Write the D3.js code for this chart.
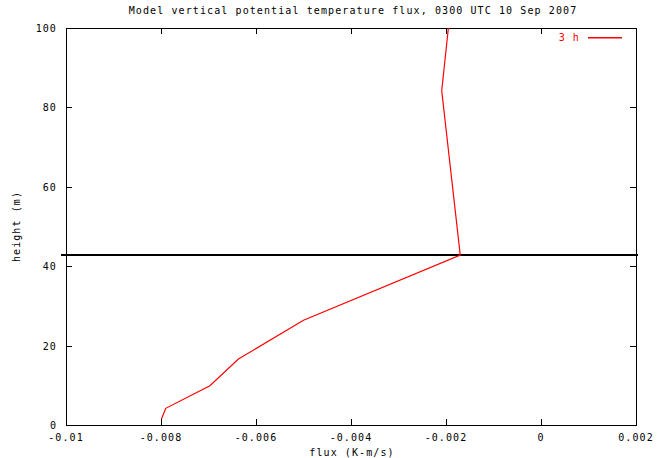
<!DOCTYPE html>
<html><head><meta charset="utf-8">
<script src="https://cdn.jsdelivr.net/npm/d3@7"></script>
<style>
body{margin:0;background:#fff;}
text{font-family:"DejaVu Sans Mono",monospace;font-size:10px;letter-spacing:1.1px;}
</style></head>
<body><svg id="c" width="664" height="458"></svg>
<script>
const title = "Model vertical potential temperature flux, 0300 UTC 10 Sep 2007";
const xLabel = "flux (K-m/s)";
const yLabel = "height (m)";
const seriesName = "3 h";
const heights = [1.5, 4.2, 9.9, 16.6, 26.4, 42.8, 84.2, 100];
const flux = [-0.00799, -0.0079, -0.00697, -0.00637, -0.0050, -0.0017, -0.00209, -0.00195];
const xTicks = [-0.01, -0.008, -0.006, -0.004, -0.002, 0, 0.002];
const xTickLabels = ["-0.01", "-0.008", "-0.006", "-0.004", "-0.002", "0", "0.002"];
const yTicks = [0, 20, 40, 60, 80, 100];
const refHeight = 42.8;

const svg = d3.select("#c");
const L = 66, R = 636, T = 28, B = 425;
const x = d3.scaleLinear().domain([-0.01, 0.002]).range([L, R]);
const y = d3.scaleLinear().domain([0, 100]).range([B, T]);

svg.append("text").attr("x", 353).attr("y", 14).attr("text-anchor", "middle").text(title);

// ticks inward, all four sides
const tl = 6;
const g = svg.append("g").attr("stroke", "#000").attr("stroke-width", 1).attr("shape-rendering", "crispEdges");
xTicks.forEach(v => {
  const px = Math.round(x(v)) + 0.5;
  g.append("line").attr("x1", px).attr("x2", px).attr("y1", B).attr("y2", B - tl);
  g.append("line").attr("x1", px).attr("x2", px).attr("y1", T).attr("y2", T + tl);
});
yTicks.forEach(v => {
  const py = Math.round(y(v)) + 0.5;
  g.append("line").attr("x1", L).attr("x2", L + tl).attr("y1", py).attr("y2", py);
  g.append("line").attr("x1", R).attr("x2", R - tl).attr("y1", py).attr("y2", py);
});
g.append("rect").attr("x", L + 0.5).attr("y", T + 0.5).attr("width", R - L).attr("height", B - T).attr("fill", "none");

xTicks.forEach((v, i) => {
  svg.append("text").attr("x", x(v)).attr("y", 441).attr("text-anchor", "middle").text(xTickLabels[i]);
});
yTicks.forEach(v => {
  svg.append("text").attr("x", 57).attr("y", y(v) + 4).attr("text-anchor", "end").text(String(v));
});
svg.append("text").attr("x", 352).attr("y", 456).attr("text-anchor", "middle").text(xLabel);
svg.append("text").attr("transform", `translate(20,${(T + B) / 2}) rotate(-90)`).attr("text-anchor", "middle").text(yLabel);

// reference line
svg.append("line").attr("x1", L - 5).attr("x2", R + 2).attr("y1", y(refHeight)).attr("y2", y(refHeight))
  .attr("stroke", "#000").attr("stroke-width", 2);

// series
const line = d3.line().x((d, i) => x(flux[i])).y((d, i) => y(heights[i]));
svg.append("path").datum(heights).attr("d", line).attr("fill", "none").attr("stroke", "#ff0000").attr("stroke-width", 1.2);

// legend
svg.append("text").attr("x", 580).attr("y", 41).attr("text-anchor", "end").style("fill", "#ff0000").text(seriesName);
svg.append("rect").attr("x", 588).attr("y", 37).attr("width", 34).attr("height", 1.5).style("fill", "#ff0000");
</script></body></html>
